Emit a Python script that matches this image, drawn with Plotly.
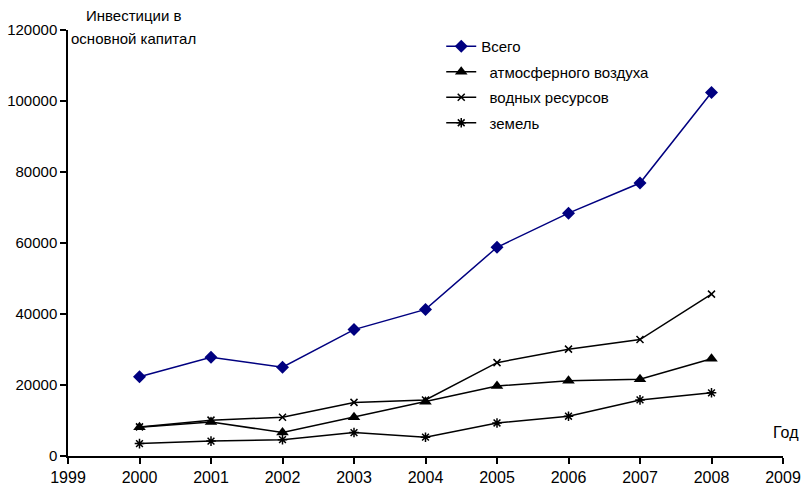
import plotly.graph_objects as go

years = [2000, 2001, 2002, 2003, 2004, 2005, 2006, 2007, 2008]
total = [22300, 27800, 25000, 35600, 41300, 58800, 68400, 76900, 102400]
air = [8100, 9600, 6600, 10900, 15300, 19700, 21200, 21600, 27400]
water = [8200, 10100, 10900, 15100, 15800, 26300, 30100, 32800, 45600]
land = [3500, 4200, 4600, 6600, 5300, 9300, 11200, 15800, 17800]

names = ["Всего", "атмосферного воздуха", "водных ресурсов", "земель"]
ytickvals = [0, 20000, 40000, 60000, 80000, 100000, 120000]
yticktext = ["0", "20000", "40000", "60000", "80000", "100000", "120000"]
xtickvals = list(range(1999, 2010))
font = "Liberation Sans, Arial, sans-serif"

fig = go.Figure()
fig.add_trace(go.Scatter(x=years, y=total, name=names[0], mode="lines+markers",
                         legendgroup="a",
                         line=dict(color="#000080", width=1.5),
                         marker=dict(symbol="diamond", size=10, color="#000080")))
fig.add_trace(go.Scatter(x=years, y=air, name="  " + names[1], mode="lines+markers",
                         legendgroup="b",
                         line=dict(color="black", width=1.5),
                         marker=dict(symbol="triangle-up", size=11, color="black")))
fig.add_trace(go.Scatter(x=years, y=water, name="  " + names[2], mode="lines+markers",
                         legendgroup="c",
                         line=dict(color="black", width=1.5),
                         marker=dict(symbol="x-thin", size=7, color="black",
                                     line=dict(color="black", width=1.5))))
fig.add_trace(go.Scatter(x=years, y=land, name="  " + names[3], mode="lines+markers",
                         legendgroup="d",
                         line=dict(color="black", width=1.5),
                         marker=dict(symbol="asterisk", size=8, color="black",
                                     line=dict(color="black", width=1.5))))

fig.update_layout(
    width=803, height=489,
    margin=dict(l=68, r=20, t=30, b=33),
    paper_bgcolor="white", plot_bgcolor="white",
    font=dict(family=font, size=15, color="black"),
    showlegend=True,
    legend=dict(x=0.522, y=1.0, xanchor="left", yanchor="top",
                font=dict(size=15), bgcolor="rgba(0,0,0,0)",
                tracegroupgap=3, itemwidth=30),
    xaxis=dict(range=[1999, 2009], tickmode="array",
               tickvals=xtickvals, automargin=False,
               showgrid=False, zeroline=False, showline=True,
               linecolor="black", linewidth=1.5, ticks="outside",
               ticklen=6, tickwidth=1.5, tickcolor="black",
               tickfont=dict(size=16)),
    yaxis=dict(range=[0, 120000], tickmode="array",
               tickvals=ytickvals, ticktext=yticktext, automargin=False,
               showgrid=False, zeroline=False, showline=True,
               linecolor="black", linewidth=1.5, ticks="outside",
               ticklen=6, tickwidth=1.5, tickcolor="black",
               tickfont=dict(size=15)),
    annotations=[
        dict(text="Инвестиции в", xref="paper", yref="paper",
             x=0.092, y=1.035, xanchor="center", yanchor="middle",
             showarrow=False, font=dict(size=15)),
        dict(text="основной капитал", xref="paper", yref="paper",
             x=0.092, y=0.981, xanchor="center", yanchor="middle",
             showarrow=False, font=dict(size=15)),
        dict(text="Год", xref="paper", yref="paper", x=1.025, y=0.056,
             xanchor="right", yanchor="middle", showarrow=False,
             font=dict(size=16)),
    ],
)

fig.write_html("out.html",
               config={"displayModeBar": False},
               post_script="document.body.style.margin='0';document.body.style.overflow='hidden';")
